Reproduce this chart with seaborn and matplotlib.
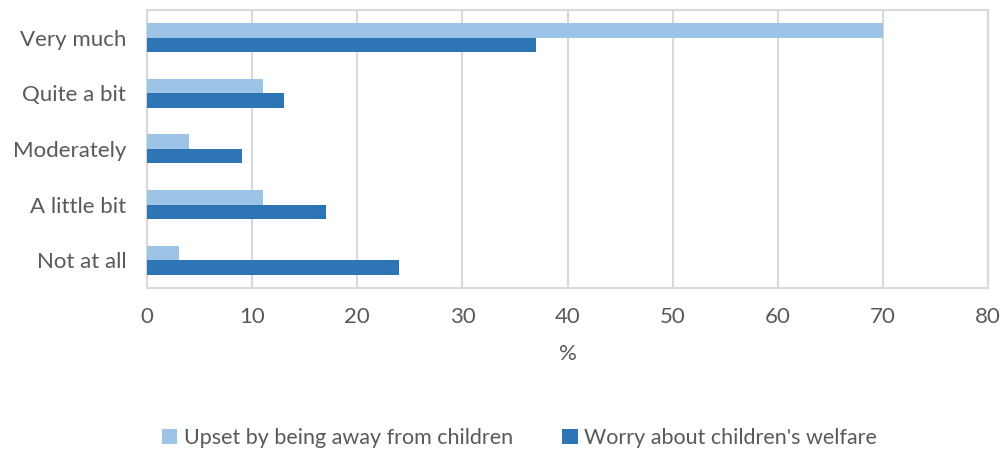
import matplotlib.pyplot as plt
import seaborn as sns
import pandas as pd

categories = ['Very much', 'Quite a bit', 'Moderately', 'A little bit', 'Not at all']
upset_away = [70, 11, 4, 11, 3]
worry_welfare = [37, 13, 9, 17, 24]
series_names = ['Upset by being away from children', "Worry about children's welfare"]
colors = ['#9DC3E6', '#2E75B6']

df = pd.DataFrame({
    'category': categories * 2,
    'value': upset_away + worry_welfare,
    'series': [series_names[0]] * len(categories) + [series_names[1]] * len(categories),
})

sns.set_style('white')
plt.rcParams['font.family'] = ['Lato', 'DejaVu Sans']
text_color = '#595959'

fig = plt.figure(figsize=(10.03, 4.5), dpi=100)
ax = fig.add_axes([0.1466, 0.36, 0.8385, 0.618])

sns.barplot(data=df, x='value', y='category', hue='series', order=categories,
            hue_order=series_names, palette=colors, orient='h', width=0.52,
            saturation=1, linewidth=0, ax=ax, zorder=3)

ax.set_xlim(0, 80)
ax.set_xticks(range(0, 81, 10))
ax.grid(axis='x', color='#D9D9D9', linewidth=1.5, zorder=0)
for s in ax.spines.values():
    s.set_visible(True)
    s.set_color('#D9D9D9')
    s.set_linewidth(1.5)
ax.tick_params(axis='both', length=0, labelsize=16, colors=text_color)
ax.tick_params(axis='y', pad=15)
ax.tick_params(axis='x', pad=14)
ax.set_ylabel('')
ax.set_xlabel('%', fontsize=16, color=text_color, labelpad=12)

handles, labels = ax.get_legend_handles_labels()
ax.legend_.remove()
fig.legend(handles, labels, loc='center', bbox_to_anchor=(0.518, 0.027), ncol=2,
           frameon=False, fontsize=15.5, labelcolor=text_color, handlelength=0.7,
           handleheight=0.7, handletextpad=0.3, columnspacing=2.3)

plt.savefig('out.png', dpi=100)
